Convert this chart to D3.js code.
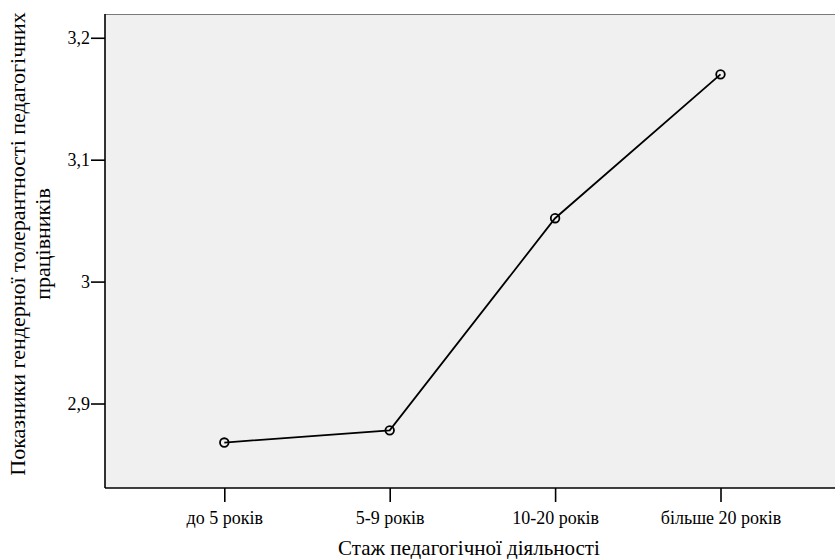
<!DOCTYPE html>
<html><head><meta charset="utf-8">
<script src="https://cdn.jsdelivr.net/npm/d3@7"></script>
<style>body{margin:0;background:#fff}svg{display:block}</style>
</head><body>
<svg id="c" width="835" height="559"></svg>
<script>
const categories = ["до 5 років", "5-9 років", "10-20 років", "більше 20 років"];
const values = [2.868, 2.878, 3.052, 3.170];
const yTicks = [2.9, 3.0, 3.1, 3.2];
const yTickLabels = ["2,9", "3", "3,1", "3,2"];
const xTitle = "Стаж педагогічної діяльності";
const yTitleLines = ["Показники гендерної толерантності педагогічних", "працівників"];

const FONT = "'Liberation Serif', 'Times New Roman', serif";
const svg = d3.select("#c");
const L = 105, R = 835, T = 14, B = 488;
const y = d3.scaleLinear().domain([2.8307, 3.2195]).range([B, T]);
const x = d3.scalePoint().domain(categories).range([224.3, 720.5]);

svg.append("rect").attr("x", L).attr("y", T).attr("width", R - L).attr("height", B - T).attr("fill", "#f0f0f0");
svg.append("line").attr("x1", L).attr("x2", R).attr("y1", T + 0.5).attr("y2", T + 0.5).attr("stroke", "#7a7a7a").attr("stroke-width", 1.2);

const yAxis = d3.axisLeft(y).tickValues(yTicks).tickSize(14).tickPadding(1).tickFormat((d, i) => yTickLabels[i]);
const gy = svg.append("g").attr("transform", `translate(${L},0)`).call(yAxis).attr("font-family", FONT).attr("font-size", 18);
gy.select(".domain").attr("stroke", "#000").attr("stroke-width", 1.6).attr("d", `M0,${T}V${B}`);
gy.selectAll(".tick line").attr("stroke", "#000").attr("stroke-width", 1.6);
gy.selectAll(".tick text").attr("fill", "#000");

const xAxis = d3.axisBottom(x).tickSize(14).tickPadding(9);
const gx = svg.append("g").attr("transform", `translate(0,${B})`).call(xAxis).attr("font-family", FONT).attr("font-size", 18);
gx.select(".domain").attr("stroke", "#000").attr("stroke-width", 1.6).attr("d", `M${L},0H${R}`);
gx.selectAll(".tick line").attr("stroke", "#000").attr("stroke-width", 1.6);
gx.selectAll(".tick text").attr("fill", "#000");

const line = d3.line().x((d, i) => x(categories[i])).y(d => y(d));
svg.append("path").datum(values).attr("d", line).attr("fill", "none").attr("stroke", "#000").attr("stroke-width", 1.8);
svg.selectAll("circle.pt").data(values).enter().append("circle").attr("class", "pt")
  .attr("cx", (d, i) => x(categories[i])).attr("cy", d => y(d)).attr("r", 4.3)
  .attr("fill", "none").attr("stroke", "#000").attr("stroke-width", 1.8);

svg.append("text").attr("x", (L + R) / 2 - 1).attr("y", 555).attr("text-anchor", "middle")
  .attr("font-family", FONT).attr("font-size", 21).text(xTitle);

const yt = svg.append("text").attr("transform", "translate(0,244) rotate(-90)").attr("text-anchor", "middle")
  .attr("font-family", FONT).attr("font-size", 22);
yTitleLines.forEach((t, i) => yt.append("tspan").attr("x", 0).attr("y", 25 + i * 25).text(t));
</script>
</body></html>
